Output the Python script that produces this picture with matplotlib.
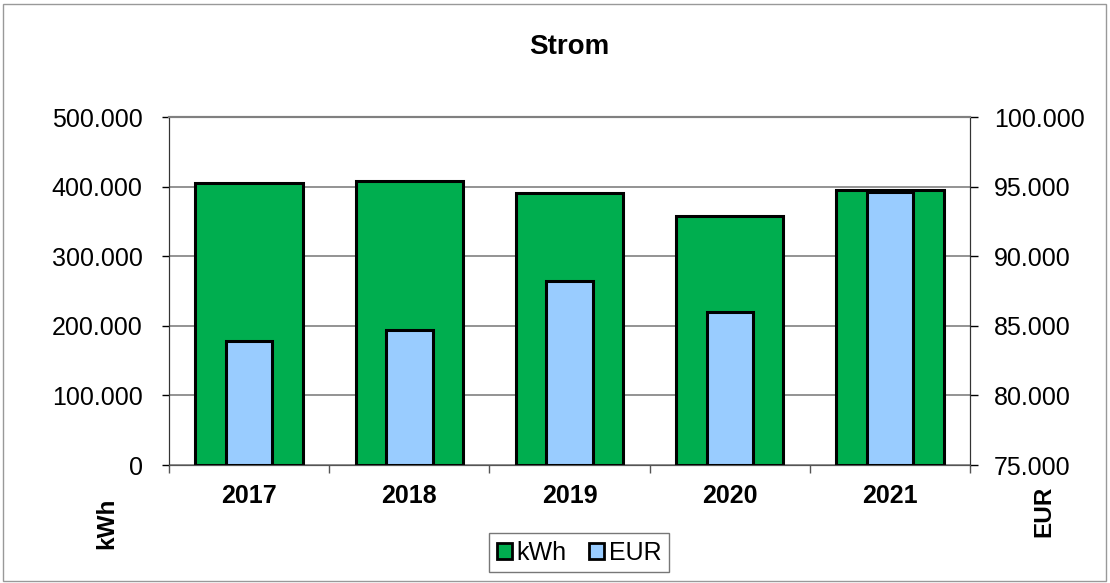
import matplotlib
matplotlib.use("Agg")
import matplotlib.pyplot as plt
from matplotlib.patches import Rectangle, Patch
from matplotlib.ticker import FuncFormatter
import numpy as np

years = ["2017", "2018", "2019", "2020", "2021"]
kwh = [404900, 408200, 391400, 358400, 395300]
eur = [83900, 84700, 88190, 85960, 94600]

kwh_ticks = [0, 100000, 200000, 300000, 400000, 500000]
eur_ticks = [75000, 80000, 85000, 90000, 95000, 100000]

plt.rcParams['font.family'] = ['Liberation Sans', 'DejaVu Sans']

GREEN = "#00AE4F"
BLUE = "#99CCFF"

fig = plt.figure(figsize=(11.1, 5.83), dpi=100)
fig.patches.append(Rectangle((0.003, 0.003), 0.993, 0.99, transform=fig.transFigure,
                             fill=False, edgecolor="#999999", linewidth=1.0))

ax = fig.add_axes([0.1523, 0.2024, 0.7216, 0.5969])
ax2 = ax.twinx()

x = np.arange(len(years))
fmt = FuncFormatter(lambda v, p: "0" if v == 0 else f"{int(v):,}".replace(",", "."))

ax.bar(x, kwh, width=0.67, color=GREEN, edgecolor="black", linewidth=2.2, zorder=3)
ax2.bar(x, [v - eur_ticks[0] for v in eur], bottom=eur_ticks[0], width=0.29,
        color=BLUE, edgecolor="black", linewidth=2.2, zorder=3)

ax.set_xlim(-0.5, len(years) - 0.5)
ax.set_ylim(kwh_ticks[0], kwh_ticks[-1])
ax2.set_ylim(eur_ticks[0], eur_ticks[-1])
ax.set_yticks(kwh_ticks)
ax2.set_yticks(eur_ticks)
ax.yaxis.set_major_formatter(fmt)
ax2.yaxis.set_major_formatter(fmt)

ax.set_xticks(x)
ax.set_xticklabels(years, fontsize=18, fontweight="bold")
ax.set_xticks(np.arange(-0.5, len(years)), minor=True)
ax.tick_params(axis="x", which="major", length=0, pad=14)
ax.tick_params(axis="x", which="minor", length=6, width=1, color="#555555")
ax.tick_params(axis="y", labelsize=18, length=5, width=1, pad=14)
ax2.tick_params(axis="y", labelsize=18, length=6, width=1, pad=11)

ax.grid(axis="y", color="#808080", linewidth=1.2, zorder=0)
ax.set_axisbelow(True)
for a in (ax, ax2):
    a.spines["top"].set_color("#808080")
    a.spines["top"].set_linewidth(1.5)
    a.spines["bottom"].set_color("#555555")
    a.spines["left"].set_color("#333333")
    a.spines["right"].set_color("#333333")

fig.text(0.513, 0.92, "Strom", ha="center", va="center", fontsize=20, fontweight="bold")
fig.text(0.0964, 0.103, "kWh", ha="center", va="center", rotation=90, fontsize=17.5, fontweight="bold")
fig.text(0.9405, 0.1235, "EUR", ha="center", va="center", rotation=90, fontsize=17.5, fontweight="bold")

handles = [Patch(facecolor=GREEN, edgecolor="black", linewidth=2.0, label="kWh"),
           Patch(facecolor=BLUE, edgecolor="black", linewidth=2.0, label="EUR")]
leg = fig.legend(handles=handles, loc="center", bbox_to_anchor=(0.5216, 0.0515), ncol=2,
                 fontsize=18, frameon=True, fancybox=False, handlelength=0.6,
                 handleheight=0.6, handletextpad=0.2, columnspacing=0.88,
                 borderpad=0.3, borderaxespad=0, edgecolor="#555555")
leg.get_frame().set_linewidth(1.0)

fig.savefig("out.png", dpi=100)
